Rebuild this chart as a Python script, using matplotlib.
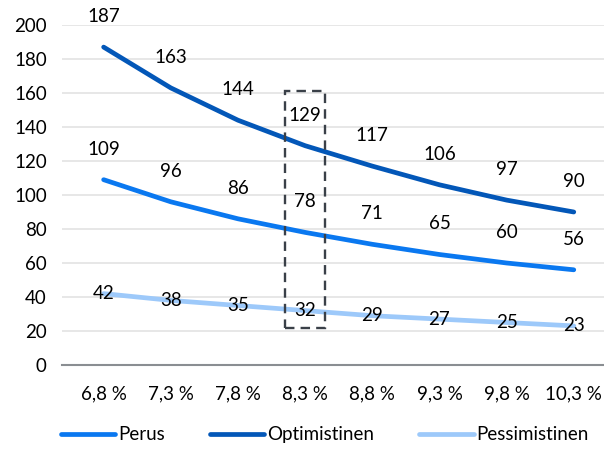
import matplotlib.pyplot as plt
from matplotlib.patches import Rectangle

plt.rcParams['font.family'] = ['Lato', 'DejaVu Sans']

korot = ['6,8 %', '7,3 %', '7,8 %', '8,3 %', '8,8 %', '9,3 %', '9,8 %', '10,3 %']
perus = [109, 96, 86, 78, 71, 65, 60, 56]
optimistinen = [187, 163, 144, 129, 117, 106, 97, 90]
pessimistinen = [42, 38, 35, 32, 29, 27, 25, 23]

c_perus = '#0a78f0'
c_opt = '#0357b8'
c_pes = '#9dc9fa'
fs = 13.5

fig = plt.figure(figsize=(6.04, 4.49), dpi=100)
ax = fig.add_axes([62/604, 84/449, 542/604, 340/449])

x = list(range(len(korot)))
ax.plot(x, perus, color=c_perus, lw=3.4, solid_capstyle='round', label='Perus')
ax.plot(x, optimistinen, color=c_opt, lw=3.4, solid_capstyle='round', label='Optimistinen')
ax.plot(x, pessimistinen, color=c_pes, lw=3.4, solid_capstyle='round', label='Pessimistinen')

# value labels: upper two series above the line, lowest centred on it
for i in x:
    ax.text(i, optimistinen[i] + 18, str(optimistinen[i]), ha='center', va='center', fontsize=fs, clip_on=False)
    ax.text(i, perus[i] + 18, str(perus[i]), ha='center', va='center', fontsize=fs)
    ax.text(i, pessimistinen[i], str(pessimistinen[i]), ha='center', va='center', fontsize=fs)

# dashed highlight around 8,3 %
ax.add_patch(Rectangle((2.7, 22), 0.6, 139, fill=False, ls=(0, (4, 2.6)), lw=1.7, ec='#3a4048', zorder=5))

ax.set_xlim(-0.62, 7.45)
ax.set_ylim(0, 200)
ax.set_yticks(range(0, 201, 20))
ax.set_xticks(x)
ax.set_xticklabels(korot)
ax.grid(axis='y', color='#e3e3e3', lw=1.2)
ax.set_axisbelow(True)
for s in ['top', 'right', 'left']:
    ax.spines[s].set_visible(False)
ax.spines['bottom'].set_color('#8a8e92')
ax.spines['bottom'].set_linewidth(1.5)
ax.tick_params(axis='both', length=0, labelsize=fs)
ax.tick_params(axis='x', pad=15)
ax.tick_params(axis='y', pad=11)

fig.legend(loc='lower center', bbox_to_anchor=(0.538, -0.025), ncol=3, frameon=False,
           fontsize=fs, handlelength=2.9, handletextpad=0.15, columnspacing=2.4)

fig.savefig('out.png', dpi=100)
